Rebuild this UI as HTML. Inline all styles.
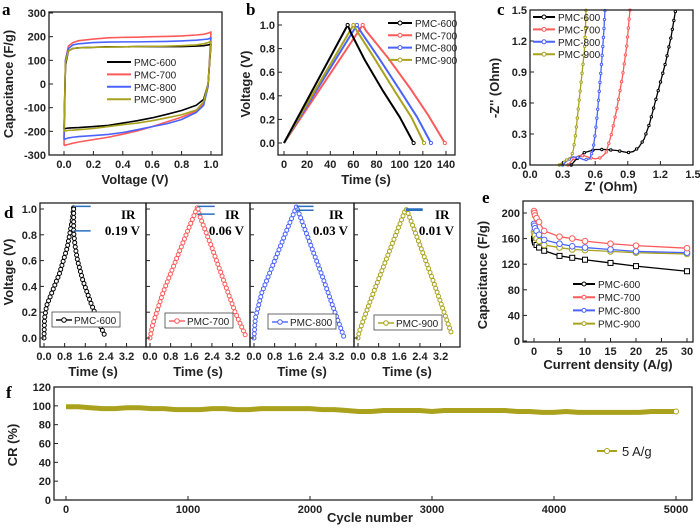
<!DOCTYPE html>
<html><head><meta charset="utf-8"><style>
html,body{margin:0;padding:0;background:#fff}
svg{display:block;font-family:"Liberation Sans",sans-serif}
.t{font-size:11px;font-weight:bold;fill:#222}
.ti{font-size:13px;font-weight:bold;fill:#222}
.pl{font-family:"Liberation Serif",serif;font-size:17px;font-weight:bold}
.lg{font-size:10px;fill:#222}
</style></head><body>
<svg id="fig" width="700" height="528" viewBox="0 0 700 528"></svg>
<script>
// ---------- DATA ----------
const names=["PMC-600","PMC-700","PMC-800","PMC-900"];
const colors=["#000000","#ff5a5a","#4a63ff","#a9a21c"];
// a: CV
const cvV=[0,0.01,0.03,0.06,0.1,0.2,0.3,0.4,0.5,0.6,0.7,0.8,0.9,0.95,0.98,1.0];
const cvUp600=[-190,80,140,150,153,155,157,157,158,158,158,158,160,162,165,168];
const cvLo600=[-190,-188,-186,-185,-184,-180,-175,-165,-155,-143,-128,-112,-90,-65,0,168];
const cvUp700=[-260,100,160,175,183,190,195,197,198,200,201,203,207,210,215,220];
const cvLo700=[-260,-258,-255,-250,-245,-235,-225,-212,-198,-180,-160,-140,-115,-85,-10,220];
const cvUp800=[-235,100,150,165,170,175,177,178,178,179,180,182,185,188,190,195];
const cvLo800=[-235,-232,-228,-225,-222,-218,-213,-205,-193,-180,-168,-150,-120,-90,-10,195];
const cvUp900=[-200,90,140,150,153,155,156,157,158,159,160,162,165,170,175,180];
const cvLo900=[-200,-198,-196,-195,-193,-188,-180,-172,-165,-155,-143,-130,-110,-75,0,180];
// b: GCD
const gcdT600=[0,55,58,70,85,100,112], gcdV600=[0,1.0,0.93,0.7,0.45,0.22,0];
const gcdT700=[0,68,71,90,110,125,139], gcdV700=[0,1.0,0.95,0.72,0.45,0.23,0];
const gcdT800=[0,63,66,82,100,115,127], gcdV800=[0,1.0,0.95,0.72,0.45,0.22,0];
const gcdT900=[0,60,63,78,95,110,121], gcdV900=[0,1.0,0.95,0.72,0.45,0.22,0];
// c: Nyquist
const nyX600=[0.38,0.42,0.5,0.6,0.7,0.8,0.9,0.95,1.0,1.05,1.1,1.15,1.2,1.25,1.3,1.34];
const nyY600=[0,0.05,0.12,0.15,0.15,0.14,0.12,0.13,0.17,0.25,0.4,0.6,0.8,1.0,1.25,1.5];
const nyX700=[0.35,0.4,0.45,0.5,0.55,0.6,0.65,0.7,0.75,0.8,0.85,0.89,0.92];
const nyY700=[0,0.06,0.09,0.09,0.07,0.06,0.07,0.12,0.3,0.55,0.85,1.15,1.5];
const nyX800=[0.3,0.35,0.4,0.45,0.5,0.55,0.58,0.6,0.62,0.64,0.66,0.68,0.69];
const nyY800=[0,0.05,0.08,0.07,0.05,0.06,0.15,0.3,0.5,0.75,1.0,1.3,1.5];
const nyX900=[0.27,0.3,0.34,0.38,0.4,0.42,0.44,0.46,0.48,0.5,0.51,0.515];
const nyY900=[0,0.03,0.05,0.08,0.15,0.3,0.5,0.7,0.9,1.1,1.3,1.5];
// d: single GCD with IR
const dT600=[0,0.02,0.1,0.3,0.6,0.9,1.1,1.15,1.15,1.2,1.3,1.5,1.8,2.1,2.4];
const dV600=[0,0.15,0.25,0.35,0.5,0.7,0.92,1.02,0.82,0.72,0.6,0.45,0.28,0.13,0];
const dT700=[0,0.1,0.5,1.0,1.5,1.85,1.9,2.4,2.9,3.3,3.7];
const dV700=[0,0.1,0.35,0.6,0.85,1.02,0.96,0.7,0.42,0.2,0.02];
const dT800=[0,0.05,0.3,0.8,1.3,1.65,1.7,2.2,2.7,3.1,3.5];
const dV800=[0,0.15,0.35,0.6,0.85,1.02,0.99,0.72,0.45,0.22,0];
const dT900=[0,0.05,0.5,1.0,1.5,1.85,1.9,2.4,2.9,3.3,3.65];
const dV900=[0,0.05,0.3,0.56,0.82,1.0,0.99,0.72,0.45,0.22,0.02];
const irLabels=["0.19 V","0.06 V","0.03 V","0.01 V"];
// e: rate capability
const rateX=[0,0.1,0.2,0.5,1,2,5,7.5,10,15,20,30];
const rate600=[160,157,154,150,146,141,133,130,127,122,117,109];
const rate700=[203,200,196,192,186,172,163,160,156,152,149,145];
const rate800=[183,180,176,172,166,158,152,148,146,143,140,138];
const rate900=[171,168,165,160,156,150,146,143,142,140,138,136];
// f: cycling
const cycX=[0,100,200,300,400,500,600,700,800,900,1000,1100,1200,1300,1400,1500,1600,1700,1800,1900,2000,2100,2200,2300,2400,2500,2600,2700,2800,2900,3000,3100,3200,3300,3400,3500,3600,3700,3800,3900,4000,4100,4200,4300,4400,4500,4600,4700,4800,4900,5000];
const cycY=[99,99,98,97,97,98,98,97,97,96,96,96,97,97,96,96,97,97,97,97,97,96,96,95,94,94,95,95,95,95,94,95,95,95,95,95,95,94,94,93,93,94,93,93,93,93,93,93,94,94,94];

// ---------- HELPERS ----------
const svg=document.getElementById('fig');
const NS="http://www.w3.org/2000/svg";
function mk(tag,attrs,parent,txt){const e=document.createElementNS(NS,tag);for(const k in attrs)e.setAttribute(k,attrs[k]);if(txt!==undefined)e.textContent=txt;(parent||svg).appendChild(e);return e;}
function lin(d0,d1,p0,p1){return v=>p0+(v-d0)*(p1-p0)/(d1-d0);}
function panel(name){const g=mk('g',{});return g;}
function box(g,x0,y0,x1,y1){const r=mk('rect',{x:x0,y:y0,width:x1-x0,height:y1-y0,fill:'none',stroke:'#222','stroke-width':1.3},g);}
function xticks(g,vals,labels,sx,yb){vals.forEach((v,i)=>{mk('line',{x1:sx(v),x2:sx(v),y1:yb,y2:yb-4,stroke:'#222'},g);const t=mk('text',{x:sx(v),y:yb+13,'text-anchor':'middle',class:'t'},g,labels[i]);});}
function yticks(g,vals,labels,sy,xl,show){vals.forEach((v,i)=>{mk('line',{x1:xl,x2:xl+4,y1:sy(v),y2:sy(v),stroke:'#222'},g);if(show){const t=mk('text',{x:xl-3,y:sy(v)+4,'text-anchor':'end',class:'t'},g,labels[i]);}});}
function title(g,x,y,txt,rot,name){const t=mk('text',{x:x,y:y,'text-anchor':'middle',class:'ti',transform:rot?`rotate(-90 ${x} ${y})`:''},g,txt);}
function plabel(x,y,s){const t=mk('text',{x:x,y:y,class:'pl'},svg,s);}
function poly(g,xs,ys,sx,sy,col,w,name){const pts=xs.map((x,i)=>sx(x)+','+sy(ys[i])).join(' ');const p=mk('polyline',{points:pts,fill:'none',stroke:col,'stroke-width':w,'stroke-linejoin':'round'},g);return p;}
function markersAlong(g,xs,ys,sx,sy,col,step,r){let carry=0;for(let i=0;i<xs.length-1;i++){const x0=sx(xs[i]),y0=sy(ys[i]),x1=sx(xs[i+1]),y1=sy(ys[i+1]);const L=Math.hypot(x1-x0,y1-y0);let d=carry;while(d<=L){const f=L?d/L:0;mk('circle',{cx:x0+(x1-x0)*f,cy:y0+(y1-y0)*f,r:r,fill:'#fff',stroke:col,'stroke-width':1},g);d+=step;}carry=d-L;}}
function legend(g,x,y,dy,len,items,cols,marker){items.forEach((n,i)=>{const yy=y+i*dy;const e=mk('g',{},g);mk('line',{x1:x,x2:x+len,y1:yy,y2:yy,stroke:cols[i],'stroke-width':2},e);if(marker)mk('circle',{cx:x+len/2,cy:yy,r:2,fill:'#fff',stroke:cols[i]},e);mk('text',{x:x+len+3,y:yy+4,class:'lg'},e,n);});}

// ---------- PANEL A ----------
{const g=panel('cv-panel');const sx=lin(0,1,64,211),sy=lin(-300,300,155,13);
const ups=[cvUp600,cvUp700,cvUp800,cvUp900],los=[cvLo600,cvLo700,cvLo800,cvLo900];
[1,2,0,3].forEach(i=>{const xs=cvV.concat(cvV.slice().reverse());const ys=ups[i].concat(los[i].slice().reverse());poly(g,xs,ys,sx,sy,colors[i],1.6,'cv-curve-'+names[i].toLowerCase());});
box(g,49,12,222,155);
xticks(g,[0,0.2,0.4,0.6,0.8,1.0],["0.0","0.2","0.4","0.6","0.8","1.0"],sx,155);
yticks(g,[300,200,100,0,-100,-200,-300],["300","200","100","0","-100","-200","-300"],sy,49,true);
title(g,135,184,"Voltage (V)",false,'x-axis-title');title(g,13,84,"Capacitance (F/g)",true,'y-axis-title');
legend(g,107,62,12.4,24,names,colors,false);plabel(2,15,'a');}

// ---------- PANEL B ----------
{const g=panel('gcd-panel');const sx=lin(0,140,284,446),sy=lin(0,1,143,25);
const T=[gcdT600,gcdT700,gcdT800,gcdT900],V=[gcdV600,gcdV700,gcdV800,gcdV900];
[1,2,3,0].forEach(i=>{poly(g,T[i],V[i],sx,sy,colors[i],2,'gcd-curve-'+names[i].toLowerCase());mk('circle',{cx:sx(T[i][T[i].length-1]),cy:sy(V[i][V[i].length-1]),r:1.6,fill:'#fff',stroke:colors[i]},g);mk('circle',{cx:sx(T[i][1]),cy:sy(V[i][1]),r:1.6,fill:'#fff',stroke:colors[i]},g);});
box(g,278,12,455,155);
xticks(g,[0,20,40,60,80,100,120,140],["0","20","40","60","80","100","120","140"],sx,155);
yticks(g,[0,0.2,0.4,0.6,0.8,1.0],["0.0","0.2","0.4","0.6","0.8","1.0"],sy,278,true);
title(g,366,184,"Time (s)",false,'x-axis-title');title(g,250,84,"Voltage (V)",true,'y-axis-title');
legend(g,388,23,12.3,24,names,colors,true);plabel(246,15,'b');}

// ---------- PANEL C ----------
{const g=panel('nyquist-panel');const sx=lin(0,1.5,530,693),sy=lin(0,1.5,165,10);
const X=[nyX600,nyX700,nyX800,nyX900],Y=[nyY600,nyY700,nyY800,nyY900];
[0,1,2,3].forEach(i=>{poly(g,X[i],Y[i],sx,sy,colors[i],1.3,'nyquist-curve-'+names[i].toLowerCase());markersAlong(g,X[i],Y[i],sx,sy,colors[i],9,1.2);});
box(g,530,10,693,165);
xticks(g,[0,0.3,0.6,0.9,1.2,1.5],["0.0","0.3","0.6","0.9","1.2","1.5"],sx,165);
yticks(g,[0,0.3,0.6,0.9,1.2,1.5],["0.0","0.3","0.6","0.9","1.2","1.5"],sy,530,true);
title(g,611,191,"Z' (Ohm)",false,'x-axis-title');title(g,499,88,"-Z'' (Ohm)",true,'y-axis-title');
legend(g,533,17,12.4,22,names,colors,true);plabel(497,15,'c');}

// ---------- PANEL D ----------
{const g=panel('ir-drop-panel');const sy=lin(0,1,338,209);
const lefts=[40,146,250,354],rights=[146,250,354,460];
const T=[dT600,dT700,dT800,dT900],V=[dV600,dV700,dV800,dV900];
for(let i=0;i<4;i++){const sx=lin(0,1,lefts[i]+4,lefts[i]+29.8);const sg=mk('g',{},g);
markersAlong(sg,T[i],V[i],sx,sy,colors[i],4.2,2);
box(sg,lefts[i],203,rights[i],347);
xticks(sg,[0,0.8,1.6,2.4,3.2],["0.0","0.8","1.6","2.4","3.2"],sx,347);
yticks(sg,[0,0.2,0.4,0.6,0.8,1.0],["0.0","0.2","0.4","0.6","0.8","1.0"],sy,lefts[i],i===0);
title(sg,(lefts[i]+rights[i])/2,376,"Time (s)",false,'x-axis-title');
const ix=sx(T[i][V[i].indexOf(Math.max(...V[i]))]);const vtop=Math.max(...V[i]);const drop=parseFloat(irLabels[i]);
mk('line',{x1:ix,x2:ix+17,y1:sy(vtop),y2:sy(vtop),stroke:'#2a6fc0','stroke-width':1.5},sg);
mk('line',{x1:ix,x2:ix+17,y1:sy(vtop-drop),y2:sy(vtop-drop),stroke:'#2a6fc0','stroke-width':1.5},sg);
mk('text',{x:rights[i]-25,y:219,'font-family':'Liberation Serif,serif','font-size':13,'font-weight':'bold'},sg,"IR");
mk('text',{x:rights[i]-6,y:235,'text-anchor':'end','font-family':'Liberation Serif,serif','font-size':13,'font-weight':'bold'},sg,irLabels[i]);
const lx=[52,165,268,374][i],ly=[320,321,322,323][i];
const lb=mk('g',{},sg);
mk('rect',{x:lx,y:ly-8,width:68,height:15,fill:'#fff',stroke:'#444','stroke-width':0.8},lb);
mk('line',{x1:lx+4,x2:lx+20,y1:ly,y2:ly,stroke:colors[i],'stroke-width':1.4},lb);mk('circle',{cx:lx+12,cy:ly,r:2.3,fill:'#fff',stroke:colors[i]},lb);
mk('text',{x:lx+22,y:ly+4,class:'lg'},lb,names[i]);}
title(g,13,272,"Voltage (V)",true,'y-axis-title');plabel(4,218,'d');}

// ---------- PANEL E ----------
{const g=panel('rate-panel');const sx=lin(0,30,534,687),sy=lin(0,200,341,213);
const R=[rate600,rate700,rate800,rate900];const mkKinds=['square','circle','tri','circle'];
[0,3,2,1].forEach(i=>{poly(g,rateX,R[i],sx,sy,colors[i],1.3,'rate-curve-'+names[i].toLowerCase());rateX.forEach((x,j)=>{if(mkKinds[i]==='square')mk('rect',{x:sx(x)-2.5,y:sy(R[i][j])-2.5,width:5,height:5,fill:'#fff',stroke:colors[i]},g);else mk('circle',{cx:sx(x),cy:sy(R[i][j]),r:2.8,fill:'#fff',stroke:colors[i]},g);});});
box(g,523,201,693,342);
xticks(g,[0,5,10,15,20,25,30],["0","5","10","15","20","25","30"],sx,342);
yticks(g,[0,40,80,120,160,200],["0","40","80","120","160","200"],sy,523,true);
title(g,608,369,"Current density (A/g)",false,'x-axis-title');title(g,487,275,"Capacitance (F/g)",true,'y-axis-title');
legend(g,573,284,13.2,22,names,colors,true);plabel(482,203,'e');}

// ---------- PANEL F ----------
{const g=panel('cycling-panel');const sx=lin(0,5000,66,676),sy=lin(0,120,500,387);
poly(g,cycX,cycY,sx,sy,'#aaa21c',5,'cycling-curve');
mk('circle',{cx:sx(cycX[cycX.length-1]),cy:sy(cycY[cycY.length-1]),r:2.5,fill:'#fff',stroke:'#aaa21c'},g);
box(g,54,387,692,500);
xticks(g,[0,1000,2000,3000,4000,5000],["0","1000","2000","3000","4000","5000"],sx,500);
yticks(g,[0,20,40,60,80,100,120],["0","20","40","60","80","100","120"],sy,54,true);
title(g,370,522,"Cycle number",false,'x-axis-title');title(g,17,445,"CR (%)",true,'y-axis-title');
const le=mk('g',{},g);
mk('line',{x1:597,x2:617,y1:451,y2:451,stroke:'#aaa21c','stroke-width':2},le);mk('circle',{cx:607,cy:451,r:2.5,fill:'#fff',stroke:'#aaa21c'},le);
mk('text',{x:622,y:456,'font-size':13,fill:'#222'},le,"5 A/g");plabel(6,398,'f');}
</script>
</body></html>
